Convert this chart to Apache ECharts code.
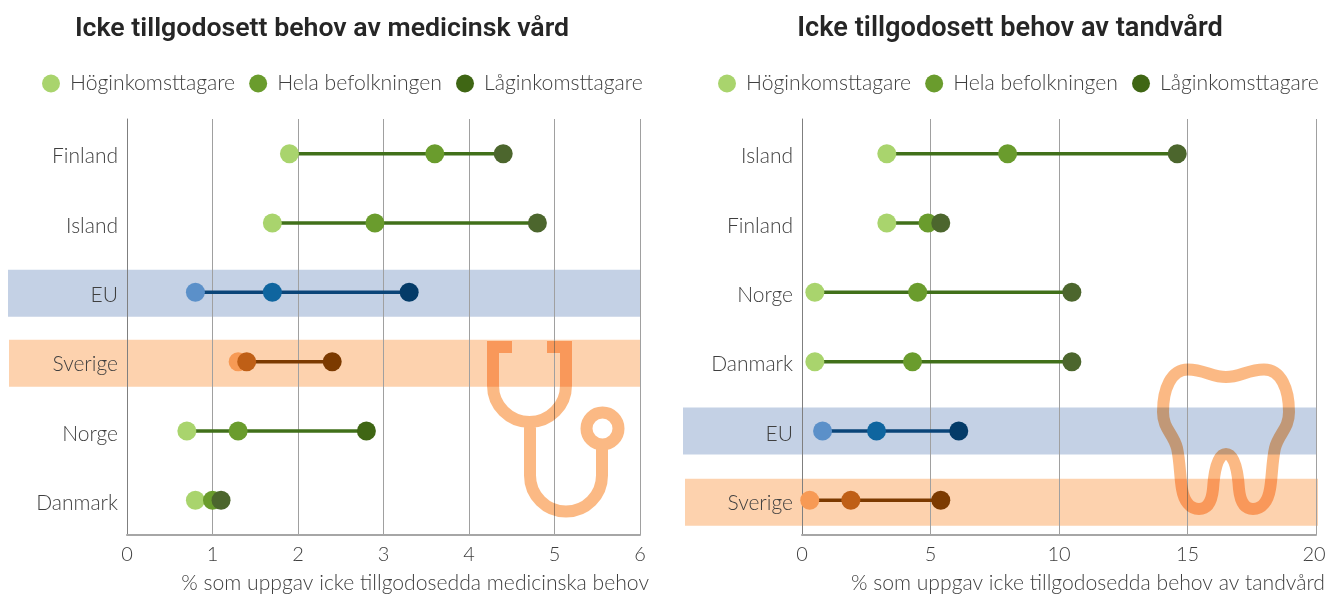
<!DOCTYPE html>
<html><head><meta charset="utf-8">
<style>html,body{margin:0;padding:0;background:#fff}#c{width:1326px;height:595px}</style>
<script src="https://cdn.jsdelivr.net/npm/echarts@6/dist/echarts.min.js"></script>
</head><body><div id="c"></div>
<script>
const seriesNames = ['Höginkomsttagare', 'Hela befolkningen', 'Låginkomsttagare'];

const medTitle = 'Icke tillgodosett behov av medicinsk vård';
const medAxisName = '% som uppgav icke tillgodosedda medicinska behov';
const medCategories = ['Finland', 'Island', 'EU', 'Sverige', 'Norge', 'Danmark'];
const medHigh = [1.9, 1.7, 0.8, 1.3, 0.7, 0.8];
const medAll  = [3.6, 2.9, 1.7, 1.4, 1.3, 1.0];
const medLow  = [4.4, 4.8, 3.3, 2.4, 2.8, 1.1];

const dentTitle = 'Icke tillgodosett behov av tandvård';
const dentAxisName = '% som uppgav icke tillgodosedda behov av tandvård';
const dentCategories = ['Island', 'Finland', 'Norge', 'Danmark', 'EU', 'Sverige'];
const dentHigh = [3.3, 3.3, 0.5, 0.5, 0.8, 0.3];
const dentAll  = [8.0, 4.9, 4.5, 4.3, 2.9, 1.9];
const dentLow  = [14.6, 5.4, 10.5, 10.5, 6.1, 5.4];

const FONT = 'Lato';
const TEXT = '#3f3f3f';
const GREEN = ['#A9D46D', '#6A9C2D', '#3F6614'];
const GREEN_SOFT_DARK = '#4C662D';
const BLUE = ['#5B90C9', '#0F659F', '#043B68'];
const ORANGE = ['#F79A55', '#BF5F16', '#7C3A00'];
const LINE = {green: '#41701A', EU: '#0A4478', Sverige: '#7C3A00'};
const BAND = {EU: '#C4D1E5', Sverige: '#FDD2AE'};

function rowColors(name, chartIdx) {
  if (name === 'EU') return BLUE;
  if (name === 'Sverige') return ORANGE;
  if (chartIdx === 0 && name === 'Norge') return GREEN;
  return [GREEN[0], GREEN[1], GREEN_SOFT_DARK];
}

const grids = [
  {left: 127, top: 119, width: 513, height: 416, outerBoundsMode: 'none'},
  {left: 802, top: 119, width: 514, height: 416, outerBoundsMode: 'none'}
];
const bandGeom = [
  {EU: {x0: 8, x1: 640, dy: 1}, Sverige: {x0: 9, x1: 641, dy: 1.5}},
  {EU: {x0: 683, x1: 1316, dy: 0}, Sverige: {x0: 685, x1: 1318, dy: 2}}
];
const BAND_H = 47;

const STETHOSCOPE = 'M512 347H493V385.5A36.5 36.5 0 0 0 566 385.5V347H547M530 422V475.5A36 36 0 0 0 602 475.5V444.5M618.5 428.5A16 16 0 1 0 586.5 428.5A16 16 0 1 0 618.5 428.5Z';
const TOOTH = 'M1226 376C1240 376 1248 368.5 1264 368.5C1281 368.5 1289 388 1289 411C1289 428 1279 432 1275 447C1272 460 1272 478 1270 488C1268 500 1262 508 1253 508C1243 508 1240 498 1239 488C1238 472 1235 453 1226 453C1217 453 1214 472 1213 488C1212 498 1209 508 1199 508C1190 508 1184 500 1182 488C1180 478 1180 460 1177 447C1173 432 1163 428 1163 411C1163 388 1171 368.5 1188 368.5C1204 368.5 1212 376 1226 376Z';
const ICON_COLOR = '#FBB984';
const icons = [
  {pathData: STETHOSCOPE, layout: 'cover', x: 493, y: 347, width: 125.5, height: 164.5},
  {pathData: TOOTH, layout: 'cover', x: 1163, y: 369.5, width: 126, height: 139.5}
];

function buildChart(i, cats, high, all, low, maxV, step, axisName, nameGapEnd) {
  const tickFont = {color: TEXT, fontFamily: FONT, fontWeight: 300, fontSize: 20};
  const axes = {
    x: {
      gridIndex: i, type: 'value', min: 0, max: maxV, interval: step,
      axisLine: {show: true, onZero: false, lineStyle: {color: '#A6A6A6', width: 2}},
      axisTick: {show: false},
      splitLine: {show: true, lineStyle: {color: '#A0A0A0', width: 1}},
      axisLabel: Object.assign({}, tickFont, {
        margin: 10, showMinLabel: true, showMaxLabel: true, alignMinLabel: 'center', alignMaxLabel: 'center',
        formatter: v => (v === maxV && v >= 10) ? '{m|' + v + '}' : String(v),
        rich: {m: Object.assign({}, tickFont, {padding: [0, 4, 0, 0]})}
      }),
      name: axisName, nameLocation: 'end', nameGap: nameGapEnd,
      nameTextStyle: {color: TEXT, fontFamily: FONT, fontWeight: 300, fontSize: 21.15, align: 'right', verticalAlign: 'top', padding: [38, 0, 0, 0]}
    },
    y: {
      gridIndex: i, type: 'category', data: cats, inverse: true,
      axisLine: {show: true, onZero: false, lineStyle: {color: '#7F7F7F', width: 1}},
      axisTick: {show: false}, splitLine: {show: false},
      axisLabel: {
        margin: 9,
        formatter: v => '{a|' + v + '}',
        rich: {a: {color: TEXT, fontFamily: FONT, fontWeight: 300, fontSize: 21, verticalAlign: 'top', padding: [6, 0, 0, 0]}}
      }
    }
  };
  const series = [];
  series.push({
    type: 'custom', xAxisIndex: i, yAxisIndex: i, z: -1, silent: true, clip: false,
    data: cats.map((c, r) => [0, r]).filter(d => BAND[cats[d[1]]]),
    encode: {x: 0, y: 1},
    renderItem(params, api) {
      const name = cats[api.value(1)];
      const g = bandGeom[i][name];
      const y = api.coord([0, api.value(1)])[1] + g.dy;
      return {type: 'rect', shape: {x: g.x0, y: y - BAND_H / 2, width: g.x1 - g.x0, height: BAND_H}, style: {fill: BAND[name]}};
    }
  });
  series.push({
    type: 'custom', xAxisIndex: i, yAxisIndex: i, z: 2, silent: true,
    data: cats.map((c, r) => [high[r], low[r], r]),
    encode: {x: [0, 1], y: 2},
    renderItem(params, api) {
      const r = api.value(2), name = cats[r];
      const a = api.coord([api.value(0), r]), b = api.coord([api.value(1), r]);
      return {type: 'line', shape: {x1: a[0], y1: a[1], x2: b[0], y2: b[1]},
        style: {stroke: LINE[name] || LINE.green, lineWidth: 3.5}};
    }
  });
  series.push({
    type: 'custom', xAxisIndex: i, yAxisIndex: i, z: 50, silent: true, clip: false,
    blendMode: 'multiply',
    data: [[0, 0]], encode: {x: 0, y: 1},
    renderItem() {
      return {type: 'path', shape: icons[i], style: {fill: 'none', stroke: ICON_COLOR, lineWidth: 12}};
    }
  });
  [high, all, low].forEach((vals, s) => {
    series.push({
      type: 'scatter', name: seriesNames[s], xAxisIndex: i, yAxisIndex: i, z: 3 + s,
      symbol: 'circle', symbolSize: 19, silent: true,
      itemStyle: {color: GREEN[s], opacity: 1},
      data: cats.map((c, r) => ({value: [vals[r], c], itemStyle: {color: rowColors(c, i)[s], opacity: 1}}))
    });
  });
  return {axes, series};
}

const a = buildChart(0, medCategories, medHigh, medAll, medLow, 6, 1, medAxisName, 9);
const b = buildChart(1, dentCategories, dentHigh, dentAll, dentLow, 20, 5, dentAxisName, 9);

function legendFor(left) {
  return {
    show: true, left, top: 73, orient: 'horizontal', icon: 'circle',
    itemWidth: 28, itemHeight: 18, itemGap: 14, padding: 0,
    selectedMode: false, data: seriesNames,
    itemStyle: {opacity: 1},
    textStyle: {color: TEXT, fontFamily: FONT, fontWeight: 300, fontSize: 21.2}
  };
}

const titleStyle = {color: '#262626', fontFamily: 'Roboto', fontWeight: 600, fontSize: 26.7};
const chart = echarts.init(document.getElementById('c'), null, {renderer: 'canvas'});
chart.setOption({
  animation: false,
  backgroundColor: '#fff',
  tooltip: {show: false},
  title: [
    {text: medTitle, left: 322, top: 16, textAlign: 'center', padding: 0, textStyle: titleStyle},
    {text: dentTitle, left: 1010, top: 16, textAlign: 'center', padding: 0, textStyle: Object.assign({}, titleStyle, {fontSize: 27.2})}
  ],
  legend: [legendFor(42), legendFor(718)],
  grid: grids,
  xAxis: [a.axes.x, b.axes.x],
  yAxis: [a.axes.y, b.axes.y],
  series: a.series.concat(b.series)
});
</script></body></html>
